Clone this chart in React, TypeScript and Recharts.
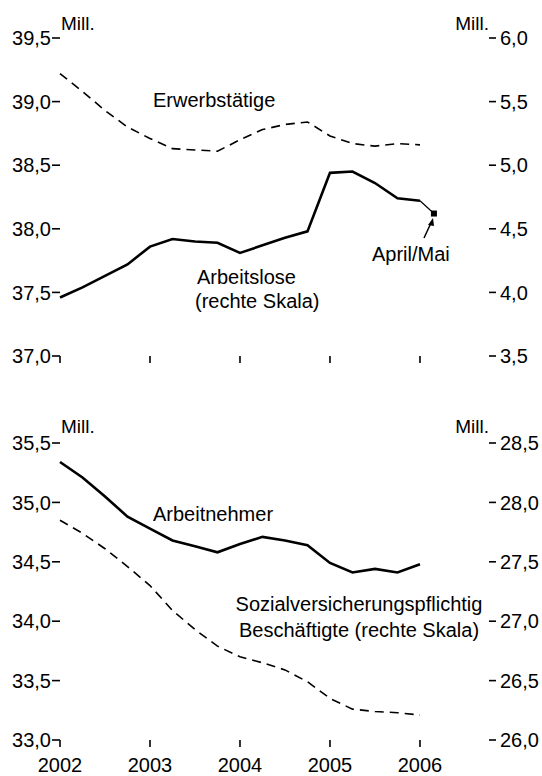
import React from "react";
import { LineChart, Line, XAxis, YAxis } from "recharts";

// quarterly positions (year fractions), 2002 Q1 .. 2006 Q1
const quarters = [
  2002, 2002.25, 2002.5, 2002.75, 2003, 2003.25, 2003.5, 2003.75, 2004,
  2004.25, 2004.5, 2004.75, 2005, 2005.25, 2005.5, 2005.75, 2006,
];

// top panel
const erwerbstaetige = [
  39.22, 39.08, 38.93, 38.8, 38.71, 38.63, 38.62, 38.61, 38.7, 38.78, 38.82,
  38.84, 38.73, 38.67, 38.65, 38.67, 38.66,
];
const arbeitslose = [
  3.96, 4.04, 4.13, 4.22, 4.36, 4.42, 4.4, 4.39, 4.31, 4.37, 4.43, 4.48, 4.94,
  4.95, 4.86, 4.74, 4.72,
];
const aprilMaiTime = 2006.155;
const aprilMaiValue = 4.62;

// bottom panel
const arbeitnehmer = [
  35.34, 35.21, 35.05, 34.88, 34.78, 34.68, 34.63, 34.58, 34.65, 34.71, 34.68,
  34.64, 34.49, 34.41, 34.44, 34.41, 34.48,
];
const sozialversichert = [
  27.85, 27.74, 27.61, 27.46, 27.3, 27.09, 26.93, 26.79, 26.7, 26.65, 26.59,
  26.49, 26.35, 26.26, 26.24, 26.23, 26.21,
];

const yearTicks = [2002, 2003, 2004, 2005, 2006];
const topLeftTicks = [37, 37.5, 38, 38.5, 39, 39.5];
const topRightTicks = [3.5, 4, 4.5, 5, 5.5, 6];
const bottomLeftTicks = [33, 33.5, 34, 34.5, 35, 35.5];
const bottomRightTicks = [26, 26.5, 27, 27.5, 28, 28.5];

const topData = [
  ...quarters.map((t, i) => ({
    t,
    erwerb: erwerbstaetige[i],
    alo: arbeitslose[i],
    latest: i === quarters.length - 1 ? arbeitslose[i] : null,
  })),
  { t: aprilMaiTime, erwerb: null, alo: null, latest: aprilMaiValue },
];

const bottomData = quarters.map((t, i) => ({
  t,
  an: arbeitnehmer[i],
  svb: sozialversichert[i],
}));

const FONT = '"Liberation Sans", Arial, Helvetica, sans-serif';
const comma = (v: number) => v.toFixed(1).replace(".", ",");
const X_DOMAIN: [number, number] = [2002, 2006.767];

const tickStyle = { fill: "#000", fontSize: 20, fontFamily: FONT };
const tickLineStyle = { stroke: "#000", strokeWidth: 1.6 };

function SquareDot(props: any) {
  const { cx, cy, payload } = props;
  if (cx == null || cy == null || payload?.t !== aprilMaiTime) return null;
  return <rect x={cx - 3} y={cy - 3} width={6} height={6} fill="#000" />;
}

function Overlay() {
  const txt = { fontFamily: FONT, fontSize: 20, fill: "#000" };
  const small = { fontFamily: FONT, fontSize: 19, fill: "#000" };
  return (
    <svg
      width={542}
      height={776}
      style={{ position: "absolute", left: 0, top: 0, pointerEvents: "none" }}
    >
      <text x={61} y={30} {...small}>Mill.</text>
      <text x={489} y={30} textAnchor="end" {...small}>Mill.</text>
      <text x={153} y={107} {...txt}>Erwerbstätige</text>
      <text x={197} y={284} {...txt}>Arbeitslose</text>
      <text x={195} y={308} {...txt}>(rechte Skala)</text>
      <text x={372} y={261} {...txt}>April/Mai</text>
      {/* pointer to the April/Mai value */}
      <line x1={424} y1={238} x2={431} y2={223} stroke="#000" strokeWidth={1.5} />
      <polygon points="433,218 428,225 434,226" fill="#000" />

      <text x={61} y={433} {...small}>Mill.</text>
      <text x={489} y={433} textAnchor="end" {...small}>Mill.</text>
      <text x={153} y={521} {...txt}>Arbeitnehmer</text>
      <text x={359} y={611} textAnchor="middle" {...txt}>
        Sozialversicherungspflichtig
      </text>
      <text x={359} y={637} textAnchor="middle" {...txt}>
        Beschäftigte (rechte Skala)
      </text>
    </svg>
  );
}

export default function App() {
  return (
    <div
      style={{
        position: "absolute",
        left: 0,
        top: 0,
        width: 542,
        height: 776,
        background: "#fff",
        fontFamily: FONT,
      }}
    >
      <div style={{ position: "absolute", left: 0, top: 0 }}>
        <LineChart
          width={542}
          height={380}
          data={topData}
          margin={{ top: 38, right: 0, bottom: 4, left: 0 }}
        >
          <XAxis
            dataKey="t"
            type="number"
            domain={X_DOMAIN}
            ticks={yearTicks}
            tickFormatter={() => ""}
            axisLine={false}
            tickLine={tickLineStyle}
            tickSize={7}
            height={20}
          />
          <YAxis
            yAxisId="left"
            domain={[37, 39.5]}
            ticks={topLeftTicks}
            tickFormatter={comma}
            axisLine={false}
            tickLine={tickLineStyle}
            tickSize={8}
            tickMargin={1}
            tick={tickStyle}
            width={60}
          />
          <YAxis
            yAxisId="right"
            orientation="right"
            domain={[3.5, 6]}
            ticks={topRightTicks}
            tickFormatter={comma}
            axisLine={false}
            tickLine={tickLineStyle}
            tickSize={7}
            tickMargin={4}
            tick={{ ...tickStyle, textAnchor: "start" }}
            width={53}
          />
          <Line
            yAxisId="left"
            dataKey="erwerb"
            type="linear"
            stroke="#000"
            strokeWidth={1.6}
            strokeDasharray="9 6"
            dot={false}
            isAnimationActive={false}
          />
          <Line
            yAxisId="right"
            dataKey="alo"
            type="linear"
            stroke="#000"
            strokeWidth={2.6}
            dot={false}
            isAnimationActive={false}
          />
          <Line
            yAxisId="right"
            dataKey="latest"
            type="linear"
            stroke="#000"
            strokeWidth={1.2}
            dot={<SquareDot />}
            isAnimationActive={false}
          />
        </LineChart>
      </div>

      <div style={{ position: "absolute", left: 0, top: 400 }}>
        <LineChart
          width={542}
          height={376}
          data={bottomData}
          margin={{ top: 43, right: 0, bottom: 0, left: 0 }}
        >
          <XAxis
            dataKey="t"
            type="number"
            domain={X_DOMAIN}
            ticks={yearTicks}
            tickFormatter={(v: number) => String(v)}
            axisLine={false}
            tickLine={tickLineStyle}
            tickSize={7}
            tickMargin={11}
            tick={tickStyle}
            height={36}
            interval={0}
          />
          <YAxis
            yAxisId="left"
            domain={[33, 35.5]}
            ticks={bottomLeftTicks}
            tickFormatter={comma}
            axisLine={false}
            tickLine={tickLineStyle}
            tickSize={8}
            tickMargin={1}
            tick={tickStyle}
            width={60}
          />
          <YAxis
            yAxisId="right"
            orientation="right"
            domain={[26, 28.5]}
            ticks={bottomRightTicks}
            tickFormatter={comma}
            axisLine={false}
            tickLine={tickLineStyle}
            tickSize={7}
            tickMargin={4}
            tick={{ ...tickStyle, textAnchor: "start" }}
            width={53}
          />
          <Line
            yAxisId="left"
            dataKey="an"
            type="linear"
            stroke="#000"
            strokeWidth={2.6}
            dot={false}
            isAnimationActive={false}
          />
          <Line
            yAxisId="right"
            dataKey="svb"
            type="linear"
            stroke="#000"
            strokeWidth={1.6}
            strokeDasharray="9 6"
            dot={false}
            isAnimationActive={false}
          />
        </LineChart>
      </div>

      <Overlay />
    </div>
  );
}
